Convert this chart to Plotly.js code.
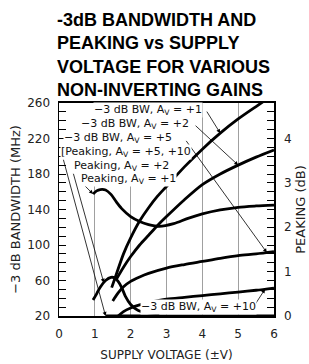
<!DOCTYPE html>
<html>
<head>
<meta charset="utf-8">
<script src="https://cdn.plot.ly/plotly-3.0.1.min.js"></script>
<style>html,body{margin:0;padding:0;background:#fff;}#chart{width:309px;height:364px;}</style>
</head>
<body>
<div id="chart"></div>
<script>
// -3 dB bandwidth (MHz) vs supply voltage (±V)
const bw1V = [1.47, 1.6, 1.8, 2.0, 2.25, 2.5, 2.75, 3.0, 3.5, 4.0, 4.5, 5.0, 5.5, 5.75];
const bw1  = [52, 67, 90, 108, 127, 142, 155, 166, 188, 208, 226, 242, 256, 263];
const bw2V = [1.58, 1.8, 2.0, 2.25, 2.5, 2.75, 3.0, 3.5, 4.0, 4.5, 5.0, 5.5, 6.0];
const bw2  = [60, 75, 87, 100, 111, 122, 132, 151, 168, 180, 190, 199, 207];
const bw5V = [1.5, 1.65, 1.8, 2.0, 2.25, 2.5, 3.0, 3.5, 4.0, 4.5, 5.0, 5.5, 6.0];
const bw5  = [37, 46, 53, 59, 64, 68, 74, 78, 81.5, 85, 88, 90, 92.5];
const bw10V = [1.65, 1.8, 2.0, 2.25, 2.5, 3.0, 3.5, 4.0, 4.5, 5.0, 5.5, 6.0];
const bw10  = [20, 25, 29, 32.5, 35, 39, 41, 43, 45, 47, 49, 51.5];
// Peaking (dB) vs supply voltage (±V)
const pk1V = [0.95, 1.05, 1.15, 1.3, 1.45, 1.6, 1.75, 2.0, 2.25, 2.5, 2.8, 3.2, 3.6, 4.0, 4.5, 5.0, 5.5, 6.0];
const pk1  = [2.75, 2.82, 2.85, 2.84, 2.74, 2.57, 2.42, 2.24, 2.13, 2.06, 2.02, 2.08, 2.2, 2.3, 2.39, 2.45, 2.48, 2.5];
const pk2V = [0.95, 1.05, 1.15, 1.3, 1.45, 1.55, 1.65, 1.75, 1.85, 2.0, 2.2, 2.5, 2.8];
const pk2  = [0.36, 0.5, 0.65, 0.8, 0.87, 0.86, 0.78, 0.64, 0.45, 0.26, 0.13, 0.07, 0.05];
const pk510V = [1.3, 6.0];
const pk510  = [0, 0];
// axis ticks
const xTicks = [0, 1, 2, 3, 4, 5, 6];
const xGridDark = [3, 4, 5];
const yTicks = [20, 60, 100, 140, 180, 220, 260];
const y2Ticks = [0, 1, 2, 3, 4];
// labels
const labels = {
  bw1: "−3 dB BW, A<sub>V</sub> = +1",
  bw2: "−3 dB BW, A<sub>V</sub> = +2",
  bw5: "−3 dB BW, A<sub>V</sub> = +5",
  pk510: "[Peaking, A<sub>V</sub> = +5, +10",
  pk2: "Peaking, A<sub>V</sub> = +2",
  pk1: "Peaking, A<sub>V</sub> = +1",
  bw10: "−3 dB BW, A<sub>V</sub> = +10"
};

function interp(xs, ys, v) {
  for (let i = 0; i < xs.length - 1; i++) {
    if (v >= xs[i] && v <= xs[i + 1]) {
      const t = (v - xs[i]) / (xs[i + 1] - xs[i]);
      return ys[i] + t * (ys[i + 1] - ys[i]);
    }
  }
  return v < xs[0] ? ys[0] : ys[ys.length - 1];
}

const thick = {color: '#000', width: 2.8, shape: 'spline', smoothing: 0.8};
const traces = [
  {x: bw1V, y: bw1, name: 'BW Av=+1', mode: 'lines', line: thick},
  {x: bw2V, y: bw2, name: 'BW Av=+2', mode: 'lines', line: thick},
  {x: bw5V, y: bw5, name: 'BW Av=+5', mode: 'lines', line: thick},
  {x: bw10V, y: bw10, name: 'BW Av=+10', mode: 'lines', line: thick},
  {x: pk1V, y: pk1, name: 'Peaking Av=+1', mode: 'lines', line: thick, yaxis: 'y2'},
  {x: pk2V, y: pk2, name: 'Peaking Av=+2', mode: 'lines', line: thick, yaxis: 'y2'},
  {x: pk510V, y: pk510, name: 'Peaking Av=+5,+10', mode: 'lines', line: thick, yaxis: 'y2'}
];

const tf = {family: 'DejaVu Sans', size: 11, color: '#111'};
function label(text, x, y) {
  return {text: text, x: x, y: y, xref: 'x', yref: 'y', xanchor: 'left', yanchor: 'middle',
          showarrow: false, font: tf, bgcolor: '#fff', borderpad: 0};
}
function arrow(ax, ay, x, y, yref) {
  return {text: '', x: x, y: y, ax: ax, ay: ay, xref: 'x', yref: yref, axref: 'x', ayref: yref,
          showarrow: true, arrowhead: 2, arrowsize: 1, arrowwidth: 0.8, arrowcolor: '#000', standoff: 0};
}

const annotations = [
  arrow(4.10, 252, 4.5, interp(bw1V, bw1, 4.5), 'y'),
  arrow(3.77, 236, 5.0, interp(bw2V, bw2, 5.0), 'y'),
  arrow(3.52, 219, 5.8, interp(bw5V, bw5, 5.8), 'y'),
  arrow(5.44, 31, 5.75, interp(bw10V, bw10, 5.75), 'y'),
  arrow(0.64, 3.0, 0.95, interp(pk1V, pk1, 0.95), 'y2'),
  arrow(0.39, 3.24, 1.25, interp(pk2V, pk2, 1.25), 'y2'),
  arrow(0.11, 3.56, 1.3, interp(pk510V, pk510, 1.3), 'y2'),
  label(labels.bw1, 0.95, 252),
  label(labels.bw2, 0.586, 236.3),
  label(labels.bw5, 0.11, 220.6),
  label(labels.pk510, 0.04, 204.8),
  label(labels.pk2, 0.39, 189),
  label(labels.pk1, 0.586, 174.4),
  label(labels.bw10, 2.26, 30.1)
];

const tickFont = {family: 'DejaVu Sans', size: 12, color: '#222'};

const layout = {
  width: 309, height: 364,
  margin: {l: 59, r: 35, t: 103, b: 48, pad: 0},
  paper_bgcolor: '#fff', plot_bgcolor: '#fff',
  showlegend: false,
  title: {
    text: '-3dB BANDWIDTH AND<br>PEAKING vs SUPPLY<br>VOLTAGE FOR VARIOUS<br>NON-INVERTING GAINS',
    font: {family: 'Liberation Sans', size: 18, weight: 'bold', color: '#000'},
    x: 57 / 309, xref: 'container', xanchor: 'left',
    y: 1 - 26 / 364, yref: 'container', yanchor: 'top'
  },
  xaxis: {
    range: [0, 6], tickvals: xTicks, ticks: '', showgrid: true, gridcolor: '#a0a0a0', gridwidth: 1,
    zeroline: false, showline: true, linecolor: '#000', linewidth: 2, mirror: true,
    tickfont: tickFont, ticklabelstandoff: 6,
    title: {text: 'SUPPLY VOLTAGE (±V)', font: {family: 'DejaVu Sans', size: 12, color: '#222'}, standoff: 10}
  },
  xaxis2: {
    range: [0, 6], tickvals: xGridDark, overlaying: 'x', anchor: 'y', ticks: '', showticklabels: false,
    showgrid: true, gridcolor: '#333', gridwidth: 1, zeroline: false, showline: false
  },
  yaxis: {
    range: [20, 260], tickvals: yTicks, ticks: 'inside', ticklen: 7, tickcolor: '#000', tickwidth: 1,
    minor: {dtick: 10, ticks: 'inside', ticklen: 7, tickcolor: '#000', tickwidth: 1, showgrid: false},
    showgrid: false, zeroline: false, showline: true, linecolor: '#000', linewidth: 1.5,
    tickfont: tickFont, ticklabelstandoff: 5,
    title: {text: '−3 dB BANDWIDTH (MHz)', font: {family: 'DejaVu Sans', size: 13, color: '#222'}, standoff: 3}
  },
  yaxis2: {
    range: [0, 4.8], tickvals: y2Ticks, overlaying: 'y', side: 'right', anchor: 'x',
    ticks: 'inside', ticklen: 7, tickcolor: '#000', tickwidth: 1,
    minor: {dtick: 0.2, ticks: 'inside', ticklen: 7, tickcolor: '#000', tickwidth: 1, showgrid: false},
    showgrid: false, zeroline: false, showline: true, linecolor: '#000', linewidth: 1.5,
    tickfont: tickFont, ticklabelstandoff: 6,
    title: {text: 'PEAKING (dB)', font: {family: 'DejaVu Sans', size: 13, color: '#222'}, standoff: 5}
  },
  annotations: annotations
};

Plotly.newPlot('chart', traces, layout, {staticPlot: true, displayModeBar: false});
</script>
</body>
</html>
